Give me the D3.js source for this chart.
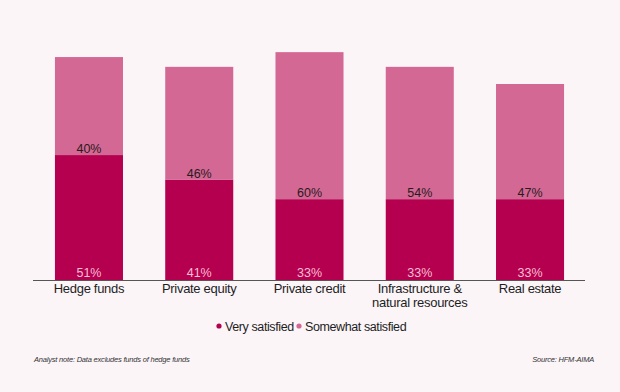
<!DOCTYPE html>
<html>
<head>
<meta charset="utf-8">
<script src="https://cdn.jsdelivr.net/npm/d3@7"></script>
<style>
  body { margin: 0; background: #fbf5f8; }
  svg { display: block; font-family: "Liberation Sans", Arial, sans-serif; }
</style>
</head>
<body>
<div id="chart"></div>
<script>
// chart data
var categories = ["Hedge funds", "Private equity", "Private credit", "Infrastructure &\nnatural resources", "Real estate"];
var verySatisfied = [51, 41, 33, 33, 33];
var somewhatSatisfied = [40, 46, 60, 54, 47];
var seriesNames = ["Very satisfied", "Somewhat satisfied"];
var colors = ["#b5004f", "#d46894"];

var svgWidth = 620;
var svgHeight = 392;

var svg = d3.select("#chart")
    .append("svg")
    .attr("width", svgWidth)
    .attr("height", svgHeight);

svg.append("rect")
    .attr("width", svgWidth)
    .attr("height", svgHeight)
    .attr("fill", "#fbf5f8");

var xScale = d3.scaleBand()
    .domain(categories)
    .range([34, 585])
    .paddingInner(0.383)
    .paddingOuter(0.19);

var yScale = d3.scaleLinear()
    .domain([0, 100])
    .range([280, 35]);

var rows = categories.map(function(c, i) {
    return { cat: c, very: verySatisfied[i], some: somewhatSatisfied[i] };
});

// stacked bars
var barGroups = svg.selectAll(".bar")
    .data(rows)
    .enter()
    .append("g")
    .attr("class", "bar");

barGroups.append("rect")
    .attr("x", d => xScale(d.cat))
    .attr("width", xScale.bandwidth())
    .attr("y", d => yScale(d.very))
    .attr("height", d => yScale(0) - yScale(d.very))
    .attr("fill", colors[0]);

barGroups.append("rect")
    .attr("x", d => xScale(d.cat))
    .attr("width", xScale.bandwidth())
    .attr("y", d => yScale(d.very + d.some))
    .attr("height", d => yScale(d.very) - yScale(d.very + d.some))
    .attr("fill", colors[1]);

// value labels
barGroups.append("text")
    .attr("x", d => xScale(d.cat) + xScale.bandwidth() / 2)
    .attr("y", d => yScale(d.very) - 2)
    .attr("text-anchor", "middle")
    .attr("font-size", 12.5)
    .attr("fill", "#2a1a20")
    .text(d => d.some + "%");

barGroups.append("text")
    .attr("x", d => xScale(d.cat) + xScale.bandwidth() / 2)
    .attr("y", yScale(0) - 3)
    .attr("text-anchor", "middle")
    .attr("font-size", 12.5)
    .attr("fill", "#f6bfd4")
    .text(d => d.very + "%");

// baseline
svg.append("line")
    .attr("x1", 33)
    .attr("x2", 585)
    .attr("y1", yScale(0) + 0.5)
    .attr("y2", yScale(0) + 0.5)
    .attr("stroke", "#555")
    .attr("stroke-width", 1);

// category labels
var catLabels = svg.selectAll(".cat")
    .data(categories)
    .enter()
    .append("text")
    .attr("class", "cat")
    .attr("x", d => xScale(d) + xScale.bandwidth() / 2)
    .attr("y", 293)
    .attr("text-anchor", "middle")
    .attr("font-size", 13)
    .attr("letter-spacing", -0.3)
    .attr("fill", "#1e1e1e");

catLabels.selectAll("tspan")
    .data(d => d.split("\n"))
    .enter()
    .append("tspan")
    .attr("x", function() { return d3.select(this.parentNode).attr("x"); })
    .attr("dy", (d, i) => i === 0 ? 0 : 14)
    .text(d => d);

// legend
var legend = svg.append("g");
var legendX = [219, 299];
seriesNames.forEach(function(name, i) {
    legend.append("circle")
        .attr("cx", legendX[i])
        .attr("cy", 326)
        .attr("r", 2.6)
        .attr("fill", colors[i]);
    legend.append("text")
        .attr("x", legendX[i] + 6)
        .attr("y", 330.5)
        .attr("font-size", 12.5)
        .attr("letter-spacing", -0.4)
        .attr("fill", "#1e1e1e")
        .text(name);
});

// footer
svg.append("text")
    .attr("x", 34)
    .attr("y", 362)
    .attr("font-size", 7.5)
    .attr("font-style", "italic")
    .attr("letter-spacing", -0.2)
    .attr("fill", "#333")
    .text("Analyst note: Data excludes  funds of hedge funds");

svg.append("text")
    .attr("x", 594)
    .attr("y", 362)
    .attr("text-anchor", "end")
    .attr("font-size", 7.5)
    .attr("font-style", "italic")
    .attr("letter-spacing", -0.2)
    .attr("fill", "#333")
    .text("Source: HFM-AIMA");
</script>
</body>
</html>
